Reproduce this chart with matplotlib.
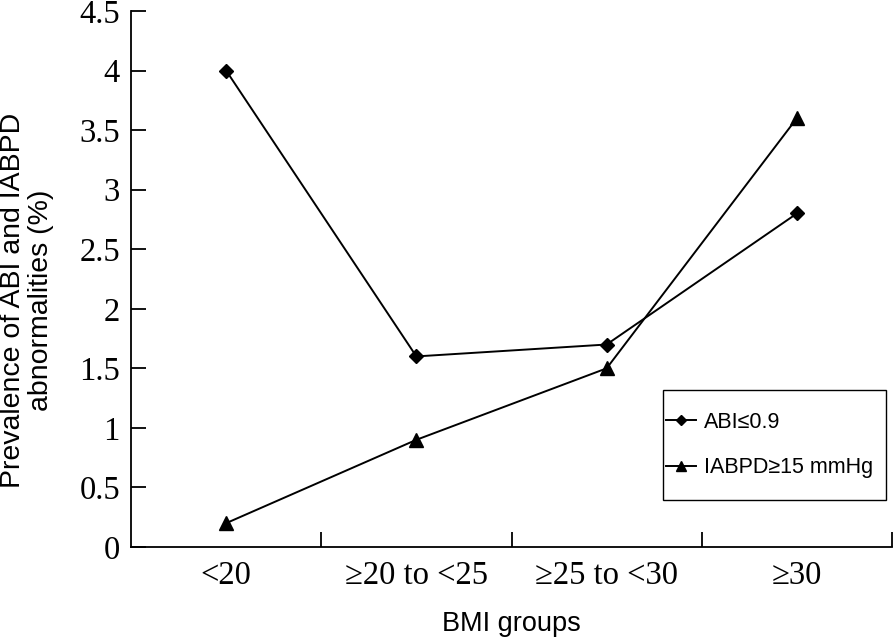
import matplotlib
matplotlib.use("Agg")
import matplotlib.pyplot as plt
from matplotlib.patches import Rectangle
import numpy as np

bmi_groups = ["<20", "≥20 to <25", "≥25 to <30", "≥30"]
abi_low = [4.0, 1.6, 1.7, 2.8]
iabpd_high = [0.2, 0.9, 1.5, 3.6]
y_ticks = [0, 0.5, 1, 1.5, 2, 2.5, 3, 3.5, 4, 4.5]
y_tick_labels = ["0", "0.5", "1", "1.5", "2", "2.5", "3", "3.5", "4", "4.5"]

serif = "Liberation Serif"
sans = "Liberation Sans"
W, H = 896, 640

fig = plt.figure(figsize=(W / 100, H / 100), dpi=100)
ax = fig.add_axes([131 / W, 1 - 547 / H, (892 - 131) / W, (547 - 11) / H])

x = np.arange(len(bmi_groups))
ax.plot(x, abi_low, color="black", linewidth=1.4, marker="D", markersize=7,
        label="ABI≤0.9")
ax.plot(x, iabpd_high, color="black", linewidth=1.4, marker="^", markersize=9.5,
        label="IABPD≥15 mmHg")

ax.set_xlim(-0.5, len(bmi_groups) - 0.5)
ax.set_ylim(0, 4.5)

ax.spines["top"].set_visible(False)
ax.spines["right"].set_visible(False)
for s in ("left", "bottom"):
    ax.spines[s].set_linewidth(1.3)

ax.set_yticks(y_ticks)
ax.set_yticklabels(y_tick_labels, fontfamily=serif, fontsize=23.5)
ax.tick_params(axis="y", direction="in", length=11, width=1.3, pad=8)

# tick marks on the group boundaries, labels at the group centres
ax.set_xticks(x + 0.5)
ax.set_xticklabels([])
ax.set_xticks(x, minor=True)
ax.set_xticklabels(bmi_groups, minor=True, fontfamily=serif, fontsize=23.5)
ax.tick_params(axis="x", which="major", direction="in", length=11, width=1.3)
ax.tick_params(axis="x", which="minor", length=0, pad=10)

fig.text(511 / W, 1 - 624 / H, "BMI groups", fontfamily=sans, fontsize=19.5,
         ha="center", va="center")
fig.text(27 / W, 1 - 300 / H, "Prevalence of ABI and IABPD\nabnormalities (%)",
         fontfamily=sans, fontsize=20.5, rotation=90, ha="center", va="center",
         multialignment="center", linespacing=1.05)

# legend box
ax.add_patch(Rectangle((663 / W, 1 - 500 / H), (886 - 663) / W, 110 / H,
                       transform=fig.transFigure, facecolor="white",
                       edgecolor="black", linewidth=1.0, zorder=4,
                       clip_on=False))
leg = ax.legend(loc="center left", bbox_to_anchor=(666 / W, 1 - 445 / H),
                bbox_transform=fig.transFigure, borderaxespad=0, borderpad=0,
                prop={"family": sans, "size": 15.5}, handlelength=1.4,
                handletextpad=0.35, labelspacing=1.15, frameon=False,
                markerscale=0.7)
leg.set_zorder(6)

fig.savefig("out.png", dpi=100)
